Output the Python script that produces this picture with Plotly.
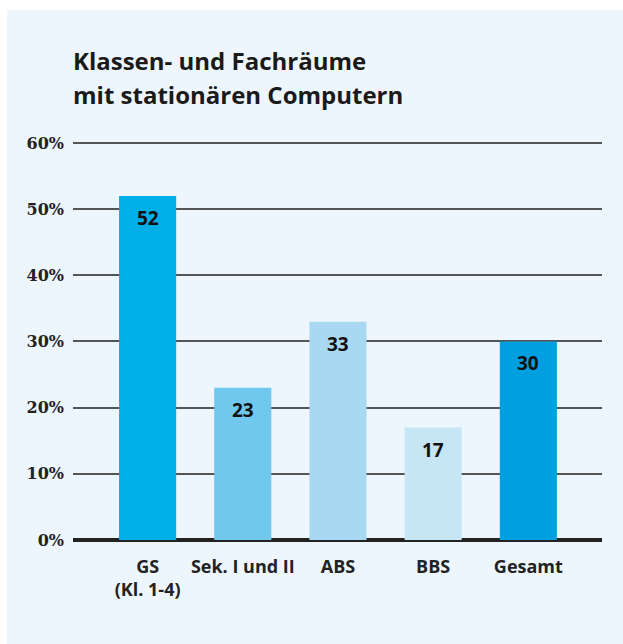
import plotly.graph_objects as go

categories = ["GS<br>(Kl. 1-4)", "Sek. I und II", "ABS", "BBS", "Gesamt"]
values = [52, 23, 33, 17, 30]
bar_colors = ["#00AEE8", "#70C8EF", "#A9D9F2", "#C6E5F5", "#009FE0"]
y_ticks = [0, 10, 20, 30, 40, 50, 60]
y_tick_labels = ["0%", "10%", "20%", "30%", "40%", "50%", "60%"]
title_lines = ["Klassen- und Fachräume", "mit stationären Computern"]

W, H = 623, 644
L, R, T, B = 73, 21, 141, 104
pw, ph = W - L - R, H - T - B
base = H - B  # pixel y of zero line

SANS = "Open Sans"


def py(pix):
    """pixel y from top -> paper y"""
    return (base - pix) / ph


def px(pix):
    return (pix - L) / pw


fig = go.Figure()
fig.add_trace(go.Bar(
    x=categories, y=values, marker=dict(color=bar_colors, line=dict(width=0)),
    width=0.6, hoverinfo="skip",
))

for c, v in zip(categories, values):
    fig.add_annotation(
        x=c, y=v, xref="x", yref="y", text=str(v), showarrow=False,
        yanchor="top", yshift=-7,
        font=dict(family=SANS, size=19, color="#111111", weight="bold"),
    )

# background panel
fig.add_shape(type="rect", xref="paper", yref="paper", layer="below",
              x0=px(7), x1=px(W + 10), y0=py(H + 10), y1=py(10),
              fillcolor="#EEF6FD", line=dict(width=0))

for i, (line, ypix) in enumerate(zip(title_lines, [60, 95])):
    fig.add_annotation(
        xref="paper", yref="paper", x=0, y=py(ypix),
        xanchor="left", yanchor="middle", align="left", showarrow=False,
        text=line, xshift=-2,
        font=dict(family=SANS, size=24, color="#1a1a1a", weight="bold"),
    )

fig.update_layout(
    width=W, height=H,
    margin=dict(l=L, r=R, t=T, b=B),
    paper_bgcolor="white", plot_bgcolor="rgba(0,0,0,0)",
    showlegend=False,
    xaxis=dict(
        range=[-0.784, 4.774], showgrid=False, zeroline=False, showline=False,
        ticks="", ticklabelstandoff=14,
        tickfont=dict(family=SANS, size=18, color="#222222", weight="bold"),
    ),
    yaxis=dict(
        range=[0, 60.3], tickvals=y_ticks, ticktext=y_tick_labels,
        showgrid=True, gridcolor="#555555", gridwidth=1.5,
        zeroline=True, zerolinecolor="#222222", zerolinewidth=3.5,
        showline=False, ticks="", ticklabelstandoff=8,
        tickfont=dict(family="DejaVu Serif", size=16, color="#222222", weight="bold"),
    ),
)

fig.write_html("out.html", config={"displayModeBar": False},
               post_script="document.body.style.margin='0';")
